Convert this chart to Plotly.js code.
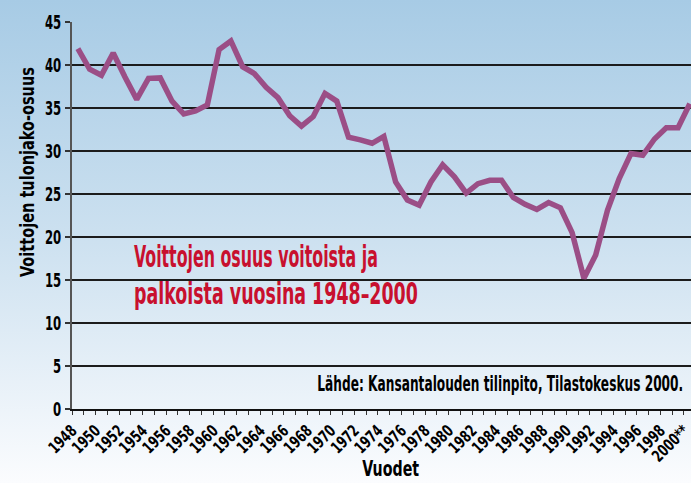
<!DOCTYPE html>
<html><head><meta charset="utf-8">
<script src="https://cdn.plot.ly/plotly-3.0.1.min.js"></script>
<style>
html,body{margin:0;padding:0;overflow:hidden;background:#fff;}
#chart{width:691px;height:483px;background:linear-gradient(to bottom, #a7cbe5 0%, #cde1f0 50%, #fbfcfe 100%);}
</style></head><body><div id="chart"></div>
<script>
const years = [1948,1949,1950,1951,1952,1953,1954,1955,1956,1957,1958,1959,1960,1961,1962,1963,1964,1965,1966,1967,1968,1969,1970,1971,1972,1973,1974,1975,1976,1977,1978,1979,1980,1981,1982,1983,1984,1985,1986,1987,1988,1989,1990,1991,1992,1993,1994,1995,1996,1997,1998,1999,2000];
const profitShare = [41.9,39.5,38.8,41.4,38.6,36.0,38.45,38.5,35.8,34.3,34.65,35.35,41.8,42.8,39.8,39.0,37.4,36.2,34.1,32.9,34.0,36.7,35.8,31.6,31.3,30.9,31.7,26.4,24.3,23.7,26.4,28.4,27.0,25.1,26.2,26.6,26.6,24.6,23.8,23.2,24.0,23.4,20.5,15.2,17.9,23.1,26.8,29.7,29.5,31.4,32.7,32.7,35.5];
const labelYears = [1948,1950,1952,1954,1956,1958,1960,1962,1964,1966,1968,1970,1972,1974,1976,1978,1980,1982,1984,1986,1988,1990,1992,1994,1996,1998,2000];
const labelText = ['1948','1950','1952','1954','1956','1958','1960','1962','1964','1966','1968','1970','1972','1974','1976','1978','1980','1982','1984','1986','1988','1990','1992','1994','1996','1998','2000**'];
const yTickVals = [0,5,10,15,20,25,30,35,40,45];
const yTitle = 'Voittojen tulonjako-osuus';
const xTitle = 'Vuodet';
const chartTitleLine1 = 'Voittojen osuus voitoista ja';
const chartTitleLine2 = 'palkoista vuosina 1948–2000';
const sourceText = 'Lähde: Kansantalouden tilinpito, Tilastokeskus 2000.';

const FONT = 'DejaVu Sans Condensed, DejaVu Sans, sans-serif';
const L = 72.4, R = 691, T = 22, B = 409;
const px = x => (x - L) / (R - L);
const py = y => (B - y) / (B - T);

// ticks sit on the boundaries between yearly categories; labels at the boundary before each even year
const xTickVals = years.map(y => y - 0.5);
const xTickText = years.map(y => { const i = labelYears.indexOf(y); return i >= 0 ? labelText[i] : ''; });

const trace = {
  x: years, y: profitShare, type: 'scatter', mode: 'lines',
  line: {color: '#9b4e86', width: 5.5, shape: 'linear'},
  hoverinfo: 'skip'
};

const annotations = [
  {text: yTitle, x: px(27), y: py(172), textangle: -90, align: 'center', xanchor: 'center', yanchor: 'middle', size: 19, color: '#000', w: 210},
  {text: xTitle, x: px(391.5), y: py(482), align: 'center', xanchor: 'center', yanchor: 'bottom', size: 22, color: '#000', w: 57},
  {text: chartTitleLine1, x: px(133), y: py(255.5), align: 'left', xanchor: 'left', yanchor: 'middle', size: 31, color: '#c8102e', w: 244},
  {text: chartTitleLine2, x: px(133), y: py(292.5), align: 'left', xanchor: 'left', yanchor: 'middle', size: 31, color: '#c8102e', w: 284},
  {text: sourceText, x: px(684), y: py(383.5), align: 'right', xanchor: 'right', yanchor: 'middle', size: 22, color: '#000', w: 366}
];

const layout = {
  width: 691, height: 483,
  margin: {l: 72.4, r: 0, t: 22, b: 74, pad: 0},
  paper_bgcolor: 'rgba(0,0,0,0)', plot_bgcolor: 'rgba(0,0,0,0)',
  showlegend: false,
  font: {family: FONT, color: '#000'},
  xaxis: {
    range: [1947.5, 2000.1], tickmode: 'array', tickvals: xTickVals, ticktext: xTickText,
    ticks: 'outside', ticklen: 4, tickcolor: '#333', tickwidth: 1,
    tickangle: -45, tickfont: {family: FONT, size: 16.5, color: '#000', weight: 'bold'},
    ticklabeloverflow: 'allow',
    showgrid: false, zeroline: false, showline: true, linecolor: '#111', linewidth: 1.5,
    fixedrange: true
  },
  yaxis: {
    range: [0, 45], tickmode: 'array', tickvals: yTickVals,
    ticks: 'outside', ticklen: 5, tickcolor: '#333', tickwidth: 1.5,
    tickfont: {family: FONT, size: 19, color: '#000', weight: 'bold'},
    showgrid: true, gridcolor: '#1c1c1c', gridwidth: 1.5,
    zeroline: false, showline: true, linecolor: '#555', linewidth: 2,
    fixedrange: true
  },
  annotations: annotations.map(a => ({
    text: a.text, xref: 'paper', yref: 'paper', x: a.x, y: a.y, textangle: a.textangle || 0,
    align: a.align, xanchor: a.xanchor, yanchor: a.yanchor, showarrow: false, borderpad: 0,
    font: {family: FONT, size: a.size, color: a.color, weight: 'bold'}
  }))
};

function squeeze(el, sx) {
  const x = parseFloat(el.getAttribute('x')) || 0;
  const t = el.getAttribute('transform') || '';
  el.setAttribute('transform', (t + ' translate(' + x + ',0) scale(' + sx + ',1) translate(' + (-x) + ',0)').trim());
}

Plotly.newPlot('chart', [trace], layout, {staticPlot: true, displayModeBar: false}).then(gd => {
  // condensed lettering: scale each text horizontally to the measured width
  gd.querySelectorAll('.annotation').forEach(g => {
    const idx = +g.getAttribute('data-index');
    const el = g.querySelector('.annotation-text');
    if (!el) return;
    const len = el.getComputedTextLength();
    if (len > 0) squeeze(el, annotations[idx].w / len);
  });
  const xt = Array.from(gd.querySelectorAll('.xtick text'));
  const ref = xt.find(e => e.textContent === '1948');
  if (ref) {
    const sx = 32 / ref.getComputedTextLength();
    xt.forEach(e => { if (e.textContent) squeeze(e, sx); });
  }
  const yt = Array.from(gd.querySelectorAll('.ytick text'));
  const yref = yt.find(e => e.textContent === '45');
  if (yref) {
    const sy = 16.3 / yref.getComputedTextLength();
    yt.forEach(e => squeeze(e, sy));
  }
});
</script></body></html>
